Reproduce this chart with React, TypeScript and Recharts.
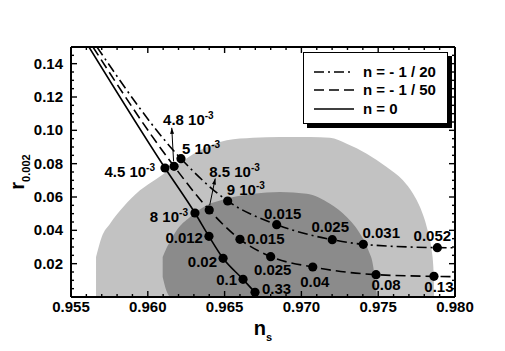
import React from "react";
import { ComposedChart, Line, Area, XAxis, YAxis, Legend } from "recharts";

const FONT = "'Liberation Sans', Arial, Helvetica, sans-serif";

// axis ticks (minor + major) and the labelled ones
const xTicks = [
  0.955, 0.956, 0.957, 0.958, 0.959, 0.96, 0.961, 0.962, 0.963, 0.964, 0.965, 0.966, 0.967,
  0.968, 0.969, 0.97, 0.971, 0.972, 0.973, 0.974, 0.975, 0.976, 0.977, 0.978, 0.979, 0.98,
];
const xLabels = [0.955, 0.96, 0.965, 0.97, 0.975, 0.98];
const yTicks = [
  0, 0.005, 0.01, 0.015, 0.02, 0.025, 0.03, 0.035, 0.04, 0.045, 0.05, 0.055, 0.06, 0.065,
  0.07, 0.075, 0.08, 0.085, 0.09, 0.095, 0.1, 0.105, 0.11, 0.115, 0.12, 0.125, 0.13, 0.135,
  0.14, 0.145, 0.15,
];
const yLabels = [0.02, 0.04, 0.06, 0.08, 0.1, 0.12, 0.14];

// outer (light) confidence region
const lightNs = [
  0.95663, 0.957, 0.95754, 0.9584, 0.95949, 0.96058, 0.96188, 0.9634, 0.96514, 0.96685,
  0.96861, 0.97056, 0.97186, 0.97295, 0.97425, 0.97555, 0.97661, 0.97727, 0.97772, 0.97816,
  0.97848, 0.97859, 0.97863,
];
const lightHi = [
  0.024, 0.036, 0.044, 0.054, 0.064, 0.071, 0.079, 0.088, 0.094, 0.0955, 0.096, 0.096, 0.0955,
  0.092, 0.086, 0.078, 0.07, 0.062, 0.054, 0.042, 0.028, 0.018, 0.008,
];

// inner (dark) confidence region
const darkNs = [
  0.96097, 0.9612, 0.9615, 0.96188, 0.96275, 0.96383, 0.96514, 0.96685, 0.96861, 0.97034,
  0.97186, 0.97295, 0.97382, 0.97436, 0.97468, 0.97479, 0.9749,
];
const darkLo = [0.012, 0.004, 0, 0, 0, 0, 0, 0, 0, 0, 0, 0, 0, 0, 0, 0, 0];
const darkHi = [
  0.024, 0.029, 0.034, 0.04, 0.048, 0.055, 0.059, 0.062, 0.063, 0.062, 0.056, 0.048, 0.038,
  0.028, 0.018, 0.01, 0.002,
];

// n = -1/20
const n20Ns = [0.95669, 0.96216, 0.9652, 0.96839, 0.97201, 0.97403, 0.97885, 0.98];
const n20R = [0.15, 0.083, 0.0576, 0.0434, 0.0344, 0.0316, 0.0296, 0.0295];
const n20Labels = ["", "5 10^-3", "9 10^-3", "0.015", "0.025", "0.031", "0.052", ""];

// n = -1/50
const n50Ns = [0.95643, 0.96171, 0.964, 0.966, 0.968, 0.97074, 0.97486, 0.97863, 0.98];
const n50R = [0.15, 0.0784, 0.0522, 0.0346, 0.0242, 0.018, 0.0134, 0.0124, 0.0122];
const n50Labels = ["", "4.8 10^-3", "8.5 10^-3", "0.015", "0.025", "0.04", "0.08", "0.13", ""];

// n = 0
const n0Ns = [0.95617, 0.96112, 0.96307, 0.96398, 0.9649, 0.9662, 0.96698];
const n0R = [0.15, 0.0774, 0.0504, 0.0364, 0.0232, 0.0106, 0.0028];
const n0Labels = ["", "4.5 10^-3", "8 10^-3", "0.012", "0.02", "0.1", "0.33"];

const lightData = lightNs.map((ns, i) => ({ ns, range: [0, lightHi[i]] }));
const darkData = darkNs.map((ns, i) => ({ ns, range: [darkLo[i], darkHi[i]] }));
const toSeries = (ns: number[], r: number[], labels: string[]) =>
  ns.map((x, i) => ({ ns: x, r: r[i], label: labels[i] }));

type Place = {
  dx: number;
  dy: number;
  anchor: "start" | "middle" | "end";
  arrow?: [number, number, number, number];
};

// where each point label sits relative to its dot
const placeN20: Record<string, Place> = {
  "5 10^-3": { dx: 1, dy: -5, anchor: "start" },
  "9 10^-3": { dx: -1, dy: -6, anchor: "start" },
  "0.015": { dx: 6, dy: -6, anchor: "middle" },
  "0.025": { dx: -2, dy: -7.5, anchor: "middle" },
  "0.031": { dx: 18, dy: -6.5, anchor: "middle" },
  "0.052": { dx: -5, dy: -6.5, anchor: "middle" },
};
const placeN50: Record<string, Place> = {
  "4.8 10^-3": { dx: -11, dy: -41, anchor: "start", arrow: [-0.5, -5, -2.3, -38.5] },
  "8.5 10^-3": { dx: 0, dy: -33, anchor: "start", arrow: [0.5, -5, 6, -31.5] },
  "0.015": { dx: 7, dy: 4.5, anchor: "start" },
  "0.025": { dx: 2, dy: 18.5, anchor: "middle" },
  "0.04": { dx: 2, dy: 20, anchor: "middle" },
  "0.08": { dx: 10, dy: 15.5, anchor: "middle" },
  "0.13": { dx: 5, dy: 15.5, anchor: "middle" },
};
const placeN0: Record<string, Place> = {
  "4.5 10^-3": { dx: -10, dy: 9, anchor: "end" },
  "8 10^-3": { dx: -7, dy: 9, anchor: "end" },
  "0.012": { dx: -6, dy: 7, anchor: "end" },
  "0.02": { dx: -6, dy: 8.7, anchor: "end" },
  "0.1": { dx: -6, dy: 5.5, anchor: "end" },
  "0.33": { dx: 7, dy: 1.5, anchor: "start" },
};

const isIn = (v: number, arr: number[]) => arr.some((a) => Math.abs(a - v) < 1e-7);

const PointText = ({ x, y, anchor, text }: { x: number; y: number; anchor: string; text: string }) => {
  const [main, sup] = text.split("^");
  return (
    <text x={x} y={y} textAnchor={anchor} fontFamily={FONT} fontSize={15} fontWeight="bold" fill="#000">
      {main}
      {sup && (
        <tspan dy={-6} fontSize={10}>
          {sup}
        </tspan>
      )}
    </text>
  );
};

const makeDot = (place: Record<string, Place>) => (props: any) => {
  const { cx, cy, payload, index } = props;
  if (!payload.label || cx == null) return <g key={`d${index}`} />;
  const p = place[payload.label];
  let arrow = null;
  if (p.arrow) {
    const [x0, y0, x1, y1] = p.arrow;
    const ax = cx + x1;
    const ay = cy + y1;
    const len = Math.hypot(x1 - x0, y1 - y0);
    const ux = (x1 - x0) / len;
    const uy = (y1 - y0) / len;
    const bx = ax - ux * 6;
    const by = ay - uy * 6;
    arrow = (
      <g>
        <line x1={cx + x0} y1={cy + y0} x2={ax} y2={ay} stroke="#000" strokeWidth={1} />
        <polygon
          points={`${ax},${ay} ${bx - uy * 2},${by + ux * 2} ${bx + uy * 2},${by - ux * 2}`}
          fill="#000"
        />
      </g>
    );
  }
  return (
    <g key={`d${index}`}>
      <circle cx={cx} cy={cy} r={4.6} fill="#000" />
      {arrow}
      <PointText x={cx + p.dx} y={cy + p.dy} anchor={p.anchor} text={payload.label} />
    </g>
  );
};

const BottomTick = (props: any) => {
  const { x, y, payload } = props;
  const major = isIn(payload.value, xLabels);
  return (
    <g>
      <line x1={x} y1={y} x2={x} y2={y - (major ? 6 : 3)} stroke="#000" strokeWidth={1.4} />
      {major && (
        <text x={x} y={y + 15} textAnchor="middle" fontFamily={FONT} fontSize={15} fontWeight="bold" fill="#000">
          {payload.value.toFixed(3)}
        </text>
      )}
    </g>
  );
};

const TopTick = (props: any) => {
  const { x, y, payload } = props;
  const major = isIn(payload.value, xLabels);
  return <line x1={x} y1={y} x2={x} y2={y + (major ? 6 : 3)} stroke="#000" strokeWidth={1.4} />;
};

const LeftTick = (props: any) => {
  const { x, y, payload } = props;
  const major = isIn(payload.value, yLabels);
  return (
    <g>
      <line x1={x} y1={y} x2={x + (major || payload.value === 0 ? 6 : 3)} y2={y} stroke="#000" strokeWidth={1.4} />
      {major && (
        <text x={x - 8} y={y + 5} textAnchor="end" fontFamily={FONT} fontSize={15} fontWeight="bold" fill="#000">
          {payload.value.toFixed(2)}
        </text>
      )}
    </g>
  );
};

const RightTick = (props: any) => {
  const { x, y, payload } = props;
  const major = isIn(payload.value, yLabels);
  return <line x1={x} y1={y} x2={x - (major ? 6 : 3)} y2={y} stroke="#000" strokeWidth={1.4} />;
};

const XTitle = (props: any) => {
  const { viewBox } = props;
  return (
    <text x={viewBox.x + viewBox.width / 2} y={viewBox.y + 38} textAnchor="middle" fontFamily={FONT} fontWeight="bold" fill="#000">
      <tspan fontSize={20}>n</tspan>
      <tspan fontSize={11} dy={6}>s</tspan>
    </text>
  );
};

const YTitle = (props: any) => {
  const { viewBox } = props;
  const cy = viewBox.y + viewBox.height / 2;
  const bx = 23.5;
  return (
    <text x={bx} y={cy} textAnchor="middle" transform={`rotate(-90, ${bx}, ${cy})`} fontFamily={FONT} fontWeight="bold" fill="#000">
      <tspan fontSize={20}>r</tspan>
      <tspan fontSize={11} dy={6}>0.002</tspan>
    </text>
  );
};

const renderLegend = (props: any) => {
  const items = (props.payload || []).filter((p: any) => p.type !== "none");
  return (
    <div
      style={{
        width: 145,
        height: 72,
        boxSizing: "border-box",
        border: "1px solid #000",
        background: "#fff",
        boxShadow: "4px 4px 0 #000",
        paddingTop: 10,
        paddingLeft: 9,
      }}
    >
      {items.map((it: any) => (
        <div key={it.value} style={{ display: "flex", alignItems: "center", height: 18.3 }}>
          <svg width={42} height={10} style={{ marginRight: 8 }}>
            <line
              x1={1}
              y1={5}
              x2={41}
              y2={5}
              stroke="#000"
              strokeWidth={1.6}
              strokeDasharray={it.payload?.strokeDasharray}
            />
          </svg>
          <span style={{ fontFamily: FONT, fontSize: 15, fontWeight: "bold", color: "#000", lineHeight: "18px" }}>
            {it.value}
          </span>
        </div>
      ))}
    </div>
  );
};

export default function App() {
  return (
    <div style={{ position: "absolute", left: 0, top: 0, width: 505, height: 351, background: "#fff" }}>
      <ComposedChart width={505} height={351} margin={{ top: 46, right: 49, bottom: 24, left: 11 }}>
        <Area
          data={lightData}
          dataKey="range"
          type="monotone"
          stroke="none"
          fill="#c2c2c2"
          fillOpacity={1}
          legendType="none"
          dot={false}
          activeDot={false}
          isAnimationActive={false}
        />
        <Area
          data={darkData}
          dataKey="range"
          type="monotone"
          stroke="none"
          fill="#8b8b8b"
          fillOpacity={1}
          legendType="none"
          dot={false}
          activeDot={false}
          isAnimationActive={false}
        />
        <Line
          data={toSeries(n20Ns, n20R, n20Labels)}
          dataKey="r"
          name="n = - 1 / 20"
          type="monotone"
          stroke="#000"
          strokeWidth={1.6}
          strokeDasharray="10 4 2 4"
          dot={makeDot(placeN20)}
          activeDot={false}
          isAnimationActive={false}
        />
        <Line
          data={toSeries(n50Ns, n50R, n50Labels)}
          dataKey="r"
          name="n = - 1 / 50"
          type="monotone"
          stroke="#000"
          strokeWidth={1.6}
          strokeDasharray="10 5"
          dot={makeDot(placeN50)}
          activeDot={false}
          isAnimationActive={false}
        />
        <Line
          data={toSeries(n0Ns, n0R, n0Labels)}
          dataKey="r"
          name="n = 0"
          type="monotone"
          stroke="#000"
          strokeWidth={1.6}
          dot={makeDot(placeN0)}
          activeDot={false}
          isAnimationActive={false}
        />
        <XAxis
          dataKey="ns"
          type="number"
          domain={[0.955, 0.98]}
          allowDataOverflow
          ticks={xTicks}
          interval={0}
          height={30}
          tickSize={0}
          tickMargin={0}
          tickLine={false}
          tick={BottomTick}
          axisLine={{ stroke: "#000", strokeWidth: 2 }}
          label={XTitle}
        />
        <XAxis
          xAxisId="top"
          orientation="top"
          dataKey="ns"
          type="number"
          domain={[0.955, 0.98]}
          allowDataOverflow
          ticks={xTicks}
          interval={0}
          height={1}
          tickSize={0}
          tickMargin={0}
          tickLine={false}
          tick={TopTick}
          axisLine={{ stroke: "#000", strokeWidth: 2 }}
        />
        <YAxis
          type="number"
          domain={[0, 0.15]}
          allowDataOverflow
          ticks={yTicks}
          interval={0}
          width={60}
          tickSize={0}
          tickMargin={0}
          tickLine={false}
          tick={LeftTick}
          axisLine={{ stroke: "#000", strokeWidth: 2 }}
          label={YTitle}
        />
        <YAxis
          yAxisId="right"
          orientation="right"
          type="number"
          domain={[0, 0.15]}
          allowDataOverflow
          ticks={yTicks}
          interval={0}
          width={1}
          tickSize={0}
          tickMargin={0}
          tickLine={false}
          tick={RightTick}
          axisLine={{ stroke: "#000", strokeWidth: 2 }}
        />
        <Legend
          layout="vertical"
          align="center"
          verticalAlign="middle"
          wrapperStyle={{ left: 303, top: 52, width: 145, height: 72 }}
          content={renderLegend}
        />
      </ComposedChart>
    </div>
  );
}
